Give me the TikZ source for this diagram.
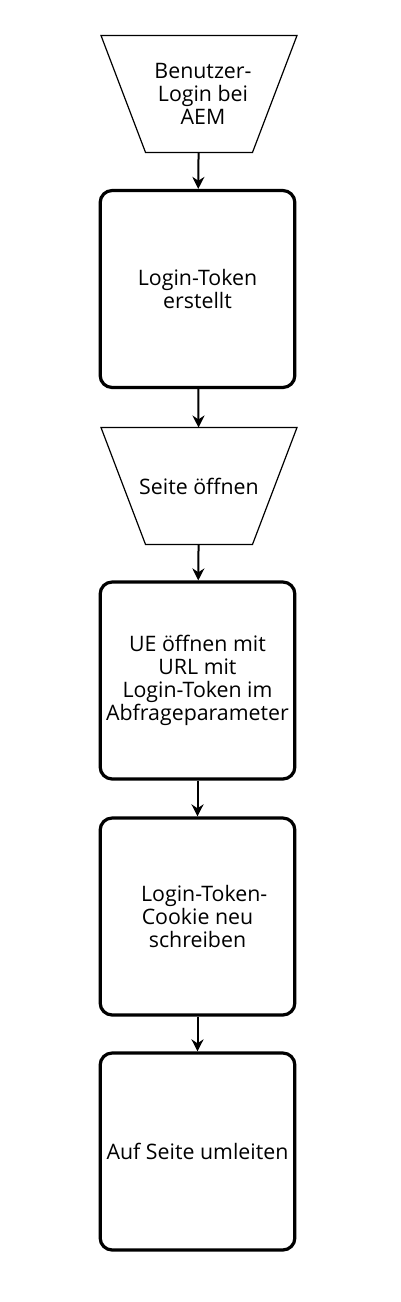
\documentclass[tikz,border=0pt]{standalone}
\usepackage{fontspec}
\setmainfont{Open Sans}
\usetikzlibrary{arrows.meta}
\tikzset{trap/.style={rectangle,outer sep=0pt,minimum width=147pt,minimum height=87.75pt,align=center,inner sep=0pt,font=\fontsize{16}{17.25}\selectfont}}
\tikzset{proc/.style={rectangle,draw,rounded corners=9pt,line width=2.4pt,minimum width=146pt,minimum height=147.75pt,align=center,font=\fontsize{16}{17.25}\selectfont}}

\begin{document}
\begin{tikzpicture}[x=0.75pt,y=-0.75pt,>={Stealth[length=9pt,width=9pt]}]
    \useasboundingbox (0,0) rectangle (400,1302);
    \node[trap] (login) at (199,94) {\hspace*{6pt}Benutzer-\\\hspace*{6pt}Login bei\\\hspace*{6pt}AEM};
    \node[proc] (token) at (197.5,289) {Login-Token\\erstellt};
    \node[trap] (seite) at (199,486) {Seite öffnen};
    \node[proc] (ue) at (197.5,680.5) {UE öffnen mit\\URL mit\\Login-Token im\\Abfrageparameter};
    \node[proc] (cookie) at (197.5,916.5) {\hspace*{10pt}Login-Token-\\Cookie neu\\schreiben};
    \node[proc] (umleiten) at (197.5,1151.5) {Auf Seite umleiten};

    \foreach \t in {login,seite}
        \draw [line width=0.9pt] (\t.north west) -- (\t.north east) -- ([xshift=-33.4pt]\t.south east) -- ([xshift=33.4pt]\t.south west) -- cycle;

    \draw [->,line width=1.5pt] (login) to [] (token);
    \draw [->,line width=1.5pt] (token) to [] (seite);
    \draw [->,line width=1.5pt] (seite) to [] (ue);
    \draw [->,line width=1.5pt] (ue) to [] (cookie);
    \draw [->,line width=1.5pt] (cookie) to [] (umleiten);
\end{tikzpicture}
\end{document}
